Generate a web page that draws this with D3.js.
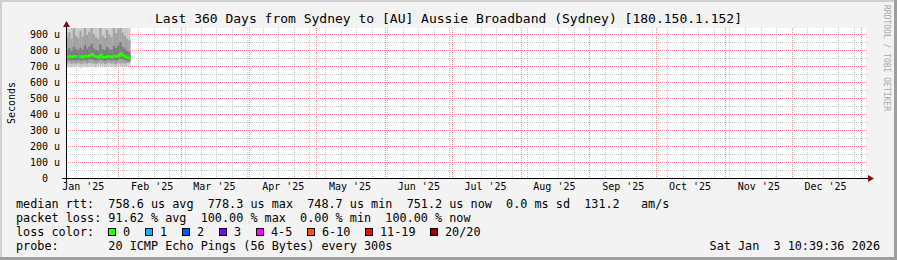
<!DOCTYPE html>
<html>
<head>
<meta charset="utf-8">
<script src="https://cdn.jsdelivr.net/npm/d3@7"></script>
<style>
  body { margin: 0; background: #f3f3f3; }
  svg { display: block; font-family: "DejaVu Sans Mono", monospace; }
  .legend text { white-space: pre; }
</style>
</head>
<body>
<div id="chart"></div>
<script>
var width = 897, height = 260;
var plot = {x0: 66, x1: 866, y0: 28, y1: 178};

// one sample per day, starting at the left edge of the 360 day window
var firstSample = Date.UTC(2025, 0, 8, 10, 39, 36);
var graphEnd = Date.UTC(2026, 0, 3, 10, 39, 36);

// median rtt in microseconds
var median = [758, 760, 757, 761, 759, 758, 760, 756, 762, 759, 765, 772, 762, 758, 755,
              768, 757, 754, 760, 758, 756, 762, 759, 764, 778, 766, 760, 752, 749];
// lost pings out of 20 for each sample
var lost = [0, 0, 0, 0, 0, 1, 0, 0, 0, 0, 0, 0, 0, 0, 0,
            0, 0, 0, 0, 0, 0, 0, 0, 0, 0, 0, 0, 0, 0];
// smoke: spread of the 20 pings (microseconds)
var pingMin = [695, 700, 690, 698, 693, 702, 688, 696, 699, 692, 700, 694, 697, 690, 701,
               695, 698, 692, 696, 700, 693, 697, 690, 699, 694, 698, 696, 700, 702];
var ping10 = [716, 718, 712, 717, 714, 719, 710, 715, 718, 713, 719, 716, 717, 712, 720,
              715, 717, 713, 716, 719, 714, 716, 711, 718, 715, 717, 716, 719, 720];
var ping25 = [736, 738, 733, 737, 735, 738, 731, 735, 738, 734, 740, 742, 737, 733, 736,
              740, 735, 731, 737, 736, 734, 738, 734, 739, 745, 740, 737, 732, 730];
var ping75 = [800, 812, 795, 820, 805, 798, 815, 802, 830, 808, 822, 840, 810, 800, 796,
              835, 805, 798, 818, 806, 800, 825, 812, 828, 850, 820, 808, 795, 790];
var ping90 = [880, 910, 870, 935, 890, 875, 920, 885, 960, 895, 915, 980, 900, 880, 870,
              950, 890, 875, 925, 895, 880, 940, 905, 930, 990, 910, 890, 870, 860];
var pingMax = [1100, 1250, 990, 1400, 1050, 980, 1300, 1020, 1500, 1080, 1200, 1600, 1150, 1000, 970,
               1450, 1060, 990, 1350, 1040, 1000, 1380, 1100, 1300, 1700, 1200, 1050, 960, 950];

var lossLabels = ['0', '1', '2', '3', '4-5', '6-10', '11-19', '20/20'];
var lossColors = ['#26ff00', '#00b8ff', '#0059ff', '#7e00ff', '#ff00ff', '#ff5500', '#ff0000', '#a10000'];

var yTicks = [0, 100, 200, 300, 400, 500, 600, 700, 800, 900];

function lossColor(n) {
  if (n == 0) return lossColors[0];
  if (n == 1) return lossColors[1];
  if (n == 2) return lossColors[2];
  if (n == 3) return lossColors[3];
  if (n <= 5) return lossColors[4];
  if (n <= 10) return lossColors[5];
  if (n <= 19) return lossColors[6];
  return lossColors[7];
}

var samples = median.map(function(m, i) {
  return {
    t0: new Date(firstSample + i * 864e5),
    t1: new Date(firstSample + (i + 1) * 864e5),
    median: m, lost: lost[i],
    min: pingMin[i], p10: ping10[i], p25: ping25[i], p75: ping75[i], p90: ping90[i], max: pingMax[i]
  };
});

var svg = d3.select('#chart').append('svg')
  .attr('width', width)
  .attr('height', height);

// canvas + 3d-ish frame
svg.append('rect').attr('width', width).attr('height', height).attr('fill', '#f3f3f3');
svg.append('rect').attr('x', 0).attr('y', 0).attr('width', width).attr('height', 2).attr('fill', '#cfcfcf');
svg.append('rect').attr('x', 0).attr('y', 0).attr('width', 2).attr('height', height).attr('fill', '#cfcfcf');
svg.append('rect').attr('x', 0).attr('y', height - 3).attr('width', width).attr('height', 3).attr('fill', '#9e9e9e');
svg.append('rect').attr('x', width - 3).attr('y', 0).attr('width', 3).attr('height', height).attr('fill', '#9e9e9e');

var x = d3.scaleUtc()
  .domain([new Date(firstSample), new Date(graphEnd)])
  .range([plot.x0, plot.x1]);

var y = d3.scaleLinear()
  .domain([0, 937.5])
  .range([plot.y1, plot.y0]);

svg.append('rect')
  .attr('x', plot.x0).attr('y', plot.y0)
  .attr('width', plot.x1 - plot.x0).attr('height', plot.y1 - plot.y0)
  .attr('fill', '#ffffff');

svg.append('clipPath').attr('id', 'clip')
  .append('rect')
  .attr('x', plot.x0).attr('y', plot.y0)
  .attr('width', plot.x1 - plot.x0).attr('height', plot.y1 - plot.y0);

// grid
var grid = svg.append('g');
var minorY = d3.range(50, 937, 100);
grid.selectAll('.hminor').data(minorY).enter().append('line')
  .attr('x1', plot.x0).attr('x2', plot.x1 + 2)
  .attr('y1', function(d) { return Math.round(y(d)) + 0.5; })
  .attr('y2', function(d) { return Math.round(y(d)) + 0.5; })
  .attr('stroke', '#c8c8c8').attr('stroke-dasharray', '1,1');

var weeks = d3.utcMonday.range(new Date(firstSample), new Date(graphEnd));
grid.selectAll('.vminor').data(weeks).enter().append('line')
  .attr('x1', function(d) { return Math.round(x(d)) + 0.5; })
  .attr('x2', function(d) { return Math.round(x(d)) + 0.5; })
  .attr('y1', plot.y0).attr('y2', plot.y1)
  .attr('stroke', '#c8c8c8').attr('stroke-dasharray', '1,1');

grid.selectAll('.hmajor').data(yTicks.slice(1)).enter().append('line')
  .attr('x1', plot.x0).attr('x2', plot.x1 + 2)
  .attr('y1', function(d) { return Math.round(y(d)) + 0.5; })
  .attr('y2', function(d) { return Math.round(y(d)) + 0.5; })
  .attr('stroke', '#f08a8a').attr('stroke-dasharray', '1,1');

var months = d3.utcMonth.range(new Date(firstSample), new Date(graphEnd));
grid.selectAll('.vmajor').data(months).enter().append('line')
  .attr('x1', function(d) { return Math.round(x(d)) + 0.5; })
  .attr('x2', function(d) { return Math.round(x(d)) + 0.5; })
  .attr('y1', plot.y0).attr('y2', plot.y1)
  .attr('stroke', '#f08a8a').attr('stroke-dasharray', '1,1');

// smoke
var smoke = svg.append('g').attr('clip-path', 'url(#clip)');
var bands = [['min', 'max', '#c8c8c8'], ['p10', 'p90', '#a2a2a2'], ['p25', 'p75', '#7a7a7a']];
bands.forEach(function(b) {
  smoke.selectAll(null).data(samples).enter().append('rect')
    .attr('x', function(d) { return x(d.t0); })
    .attr('width', function(d) { return x(d.t1) - x(d.t0); })
    .attr('y', function(d) { return y(d[b[1]]); })
    .attr('height', function(d) { return y(d[b[0]]) - y(d[b[1]]); })
    .attr('fill', b[2]);
});

// median, coloured by loss
var med = svg.append('g').attr('clip-path', 'url(#clip)');
med.selectAll(null).data(samples).enter().append('path')
  .attr('d', function(d, i) {
    var p = 'M' + x(d.t0) + ',' + y(d.median) + 'H' + x(d.t1);
    if (i < samples.length - 1) p += 'V' + y(samples[i + 1].median);
    return p;
  })
  .attr('fill', 'none')
  .attr('stroke', function(d) { return lossColor(d.lost); })
  .attr('stroke-width', 2.5);

// axes
var yAxis = svg.append('g')
  .attr('transform', 'translate(' + plot.x0 + ',0)')
  .call(d3.axisLeft(y).tickValues(yTicks).tickSize(0).tickPadding(6)
    .tickFormat(function(d) { return d == 0 ? '0' : d + ' u'; }));
yAxis.select('.domain').remove();
yAxis.selectAll('text').attr('font-size', 10).attr('font-family', '"DejaVu Sans Mono", monospace').attr('fill', '#000')
  .attr('dx', function(d) { return d == 0 ? -12 : 0; });

var labelDates = months.map(function(d) { return d3.utcDay.offset(d, 15); })
  .filter(function(d) { return d < graphEnd; });
labelDates.unshift(d3.utcDay.offset(d3.utcMonth.floor(new Date(firstSample)), 15));
var xAxis = svg.append('g')
  .attr('transform', 'translate(0,' + plot.y1 + ')')
  .call(d3.axisBottom(x).tickValues(labelDates).tickSize(0).tickPadding(5)
    .tickFormat(d3.utcFormat("%b '%y")));
xAxis.select('.domain').remove();
xAxis.selectAll('text').attr('font-size', 10).attr('font-family', '"DejaVu Sans Mono", monospace').attr('fill', '#000');

svg.append('line')
  .attr('x1', plot.x0 - 4).attr('x2', plot.x1 + 2)
  .attr('y1', plot.y1 + 0.5).attr('y2', plot.y1 + 0.5)
  .attr('stroke', '#000');
svg.append('line')
  .attr('x1', plot.x0 + 0.5).attr('x2', plot.x0 + 0.5)
  .attr('y1', plot.y1 + 4).attr('y2', plot.y0 - 2)
  .attr('stroke', '#000');
svg.append('path')
  .attr('d', 'M' + (plot.x1 + 2) + ',' + (plot.y1 - 3) + 'L' + (plot.x1 + 8) + ',' + (plot.y1 + 0.5) + 'L' + (plot.x1 + 2) + ',' + (plot.y1 + 4) + 'Z')
  .attr('fill', '#7f1010');
svg.append('path')
  .attr('d', 'M' + (plot.x0 - 3) + ',' + (plot.y0 - 1) + 'L' + (plot.x0 + 0.5) + ',' + (plot.y0 - 7) + 'L' + (plot.x0 + 4) + ',' + (plot.y0 - 1) + 'Z')
  .attr('fill', '#7f1010');

// titles
svg.append('text')
  .attr('x', width / 2).attr('y', 23)
  .attr('text-anchor', 'middle')
  .attr('font-size', 13)
  .text('Last 360 Days from Sydney to [AU] Aussie Broadband (Sydney) [180.150.1.152]');

svg.append('text')
  .attr('transform', 'translate(15,' + (plot.y0 + plot.y1) / 2 + ') rotate(-90)')
  .attr('text-anchor', 'middle')
  .attr('font-size', 10)
  .text('Seconds');

svg.append('text')
  .attr('transform', 'translate(884,5) rotate(90)')
  .attr('font-size', 8)
  .attr('fill', '#a8a8a8')
  .text('RRDTOOL / TOBI OETIKER');

// legend
var legend = svg.append('g').attr('class', 'legend').attr('font-size', 11.8);
var legendLines = [
  'median rtt:  758.6 us avg  778.3 us max  748.7 us min  751.2 us now  0.0 ms sd  131.2   am/s',
  'packet loss: 91.62 % avg  100.00 % max  0.00 % min  100.00 % now',
  'loss color:',
  'probe:       20 ICMP Echo Pings (56 Bytes) every 300s'
];
legend.selectAll('.row').data(legendLines).enter().append('text')
  .attr('x', 16)
  .attr('y', function(d, i) { return 208 + i * 14; })
  .text(function(d) { return d; });

var bx = 108;
lossLabels.forEach(function(l, i) {
  legend.append('rect')
    .attr('x', bx + 0.5).attr('y', 228.5).attr('width', 7).attr('height', 7)
    .attr('fill', lossColors[i]).attr('stroke', '#000');
  legend.append('text').attr('x', bx + 15).attr('y', 236).text(l);
  bx += 30 + 7 * l.length;
});

legend.append('text')
  .attr('x', 880).attr('y', 250)
  .attr('text-anchor', 'end')
  .text('Sat Jan  3 10:39:36 2026');
</script>
</body>
</html>
